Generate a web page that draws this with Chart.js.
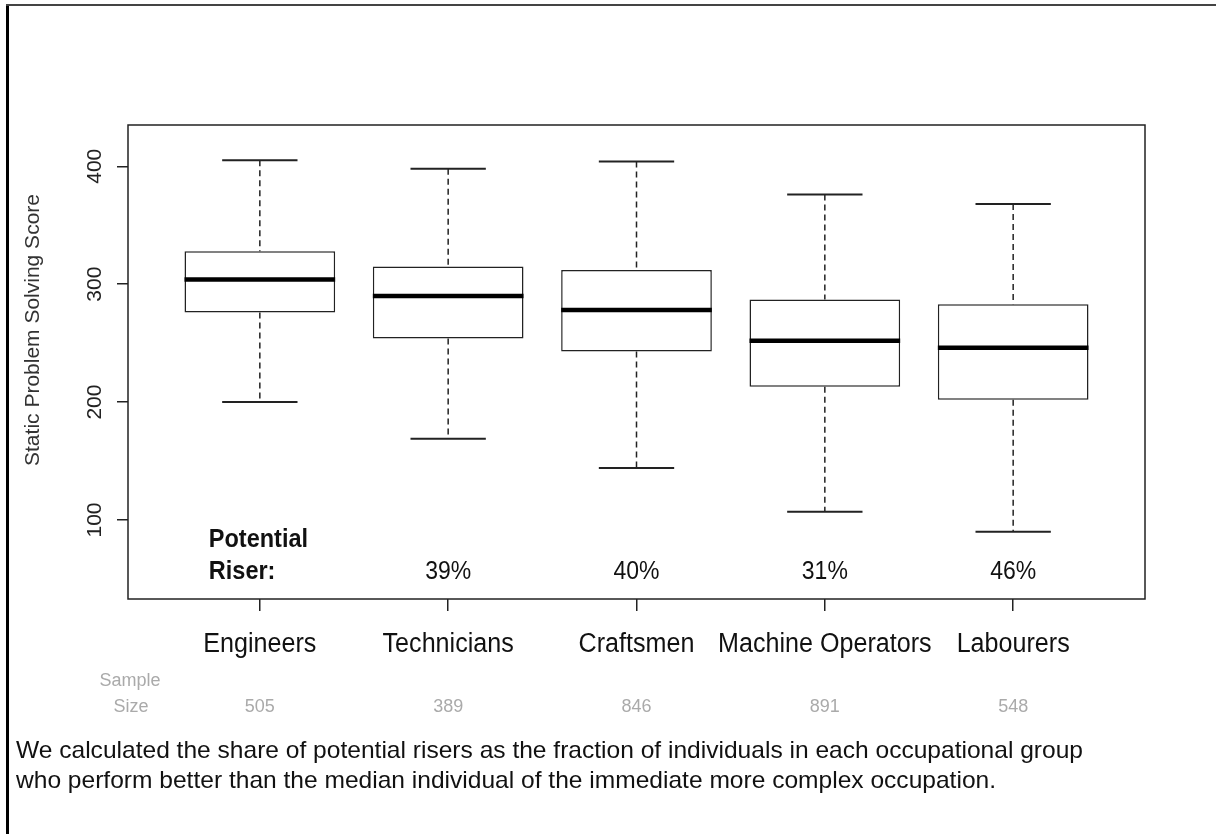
<!DOCTYPE html>
<html>
<head>
<meta charset="utf-8">
<script src="https://cdn.jsdelivr.net/npm/chart.js@4.4.0/dist/chart.umd.min.js"></script>
<style>
  html, body { margin: 0; padding: 0; background: #fff; }
  #wrap { position: relative; width: 1216px; height: 834px; }
</style>
</head>
<body>
<div id="wrap"><canvas id="myChart" width="1216" height="834"></canvas></div>
<script>
var categories = ['Engineers', 'Technicians', 'Craftsmen', 'Machine Operators', 'Labourers']
var lowerWhisker = [200, 169, 144, 107, 90]
var q1 = [276, 254, 243, 213, 202]
var median = [304, 290, 278, 252, 246]
var q3 = [328, 315, 312, 287, 283]
var upperWhisker = [405, 398, 404, 376, 368]
var riserShare = ['', '39%', '40%', '31%', '46%']
var sampleSize = ['505', '389', '846', '891', '548']
var yTicks = [100, 200, 300, 400]
var captionLines = [
    'We calculated the share of potential risers as the fraction of individuals in each occupational group',
    'who perform better than the median individual of the immediate more complex occupation.',
]

var FONT = '"Liberation Sans", Arial, sans-serif'

// draw text squeezed a little sideways, the picture's labels look narrow
function narrowText(ctx, text, x, y, squeeze) {
    ctx.save()
    ctx.translate(x, y)
    ctx.scale(squeeze, 1)
    ctx.fillText(text, 0, 0)
    ctx.restore()
}

var boxplotParts = {
    id: 'boxplotParts',
    beforeDatasetsDraw(chart) {
        var ctx = chart.ctx
        var y = chart.scales.y
        var meta = chart.getDatasetMeta(0)
        ctx.save()
        ctx.strokeStyle = '#222'
        meta.data.forEach((bar, i) => {
            // dashed whiskers
            ctx.lineWidth = 1.5
            ctx.setLineDash([6, 4])
            ctx.beginPath()
            ctx.moveTo(bar.x, y.getPixelForValue(upperWhisker[i]))
            ctx.lineTo(bar.x, y.getPixelForValue(q3[i]))
            ctx.moveTo(bar.x, y.getPixelForValue(q1[i]))
            ctx.lineTo(bar.x, y.getPixelForValue(lowerWhisker[i]))
            ctx.stroke()
            // staples, half the box width
            ctx.setLineDash([])
            ctx.lineWidth = 2
            var half = bar.width / 4
            var top = y.getPixelForValue(upperWhisker[i])
            var bottom = y.getPixelForValue(lowerWhisker[i])
            ctx.beginPath()
            ctx.moveTo(bar.x - half, top)
            ctx.lineTo(bar.x + half, top)
            ctx.moveTo(bar.x - half, bottom)
            ctx.lineTo(bar.x + half, bottom)
            ctx.stroke()
        })
        ctx.restore()
    },
    afterDatasetsDraw(chart) {
        var ctx = chart.ctx
        var y = chart.scales.y
        var area = chart.chartArea
        var meta = chart.getDatasetMeta(0)
        ctx.save()
        // medians
        ctx.strokeStyle = '#000'
        ctx.lineWidth = 4.5
        meta.data.forEach((bar, i) => {
            var py = y.getPixelForValue(median[i])
            ctx.beginPath()
            ctx.moveTo(bar.x - bar.width / 2, py)
            ctx.lineTo(bar.x + bar.width / 2, py)
            ctx.stroke()
        })
        // plot frame
        ctx.strokeStyle = '#222'
        ctx.lineWidth = 1.5
        ctx.strokeRect(area.left, area.top, area.right - area.left, area.bottom - area.top)
        ctx.restore()
    },
    afterDraw(chart) {
        var ctx = chart.ctx
        var x = chart.scales.x
        var y = chart.scales.y
        ctx.save()

        // outer picture border
        ctx.strokeStyle = '#000'
        ctx.lineWidth = 3
        ctx.beginPath()
        ctx.moveTo(7.5, 4)
        ctx.lineTo(7.5, 834)
        ctx.stroke()
        ctx.strokeStyle = '#444'
        ctx.lineWidth = 2
        ctx.beginPath()
        ctx.moveTo(6, 5)
        ctx.lineTo(1216, 5)
        ctx.stroke()

        // y tick labels, parallel to the axis
        ctx.fillStyle = '#222'
        ctx.font = '21px ' + FONT
        ctx.textAlign = 'center'
        ctx.textBaseline = 'middle'
        yTicks.forEach(v => {
            ctx.save()
            ctx.translate(95, y.getPixelForValue(v))
            ctx.rotate(-Math.PI / 2)
            ctx.fillText(String(v), 0, 0)
            ctx.restore()
        })
        ctx.save()
        ctx.translate(33, 330)
        ctx.rotate(-Math.PI / 2)
        ctx.fillStyle = '#333'
        ctx.fillText('Static Problem Solving Score', 0, 0)
        ctx.restore()

        // category labels
        ctx.fillStyle = '#111'
        ctx.font = '27px ' + FONT
        categories.forEach((c, i) => {
            narrowText(ctx, c, x.getPixelForValue(i + 1), 645, 0.93)
        })

        // potential riser shares
        ctx.font = '25px ' + FONT
        riserShare.forEach((s, i) => {
            if (s) narrowText(ctx, s, x.getPixelForValue(i + 1), 572, 0.92)
        })
        ctx.textAlign = 'left'
        ctx.font = 'bold 25px ' + FONT
        var x1 = x.getPixelForValue(1)
        narrowText(ctx, 'Potential', x1 - 51, 540, 0.94)
        narrowText(ctx, 'Riser:', x1 - 51, 572, 0.94)

        // sample sizes
        ctx.fillStyle = '#aaa'
        ctx.font = '18px ' + FONT
        ctx.textAlign = 'center'
        ctx.fillText('Sample', 130, 681)
        ctx.fillText('Size', 131, 707)
        sampleSize.forEach((n, i) => {
            ctx.fillText(n, x.getPixelForValue(i + 1), 707)
        })

        // caption, condensed like the original
        ctx.fillStyle = '#111'
        ctx.font = '24px ' + FONT
        ctx.textAlign = 'left'
        var k = 1067 / ctx.measureText(captionLines[0]).width
        captionLines.forEach((line, i) => {
            narrowText(ctx, line, 16, 751 + i * 30, k)
        })
        ctx.restore()
    },
}

var ctx = document.getElementById('myChart').getContext('2d')

var chart = new Chart(ctx, {
    type: 'bar',
    data: {
        datasets: [{
            label: 'IQR',
            data: categories.map((c, i) => ({ x: i + 1, y: [q1[i], q3[i]] })),
            backgroundColor: '#fff',
            borderColor: '#222',
            borderWidth: 1.5,
            borderSkipped: false,
            categoryPercentage: 1,
            barPercentage: 0.8,
        }],
    },
    options: {
        responsive: false,
        animation: false,
        devicePixelRatio: 1,
        layout: { padding: { top: 125, right: 71, bottom: 215, left: 108 } },
        plugins: {
            legend: { display: false },
            tooltip: { enabled: false },
        },
        scales: {
            x: {
                type: 'linear',
                offset: false,
                min: 0.3,
                max: 5.7,
                afterBuildTicks: s => { s.ticks = categories.map((c, i) => ({ value: i + 1 })) },
                afterFit: s => { s.height = 20 },
                ticks: { display: false },
                grid: { offset: false, drawOnChartArea: false, drawTicks: true, tickLength: 12, color: '#222', lineWidth: 1.5 },
                border: { display: false },
            },
            y: {
                min: 33,
                max: 435,
                afterBuildTicks: s => { s.ticks = yTicks.map(v => ({ value: v })) },
                afterFit: s => { s.width = 20 },
                ticks: { display: false },
                grid: { drawOnChartArea: false, drawTicks: true, tickLength: 11, color: '#222', lineWidth: 1.5 },
                border: { display: false },
            },
        },
    },
    plugins: [boxplotParts],
})
</script>
</body>
</html>
